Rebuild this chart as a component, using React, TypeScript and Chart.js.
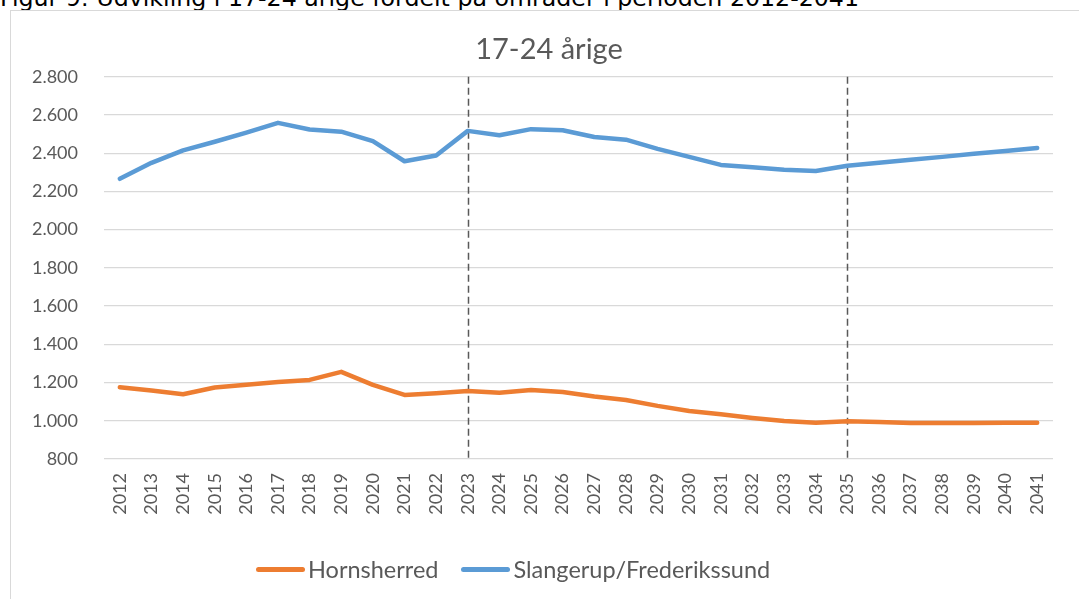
import React, { useEffect, useRef } from 'react';
import { Chart, registerables } from 'chart.js';

Chart.register(...registerables);

const years = [
  '2012', '2013', '2014', '2015', '2016', '2017', '2018', '2019', '2020', '2021',
  '2022', '2023', '2024', '2025', '2026', '2027', '2028', '2029', '2030', '2031',
  '2032', '2033', '2034', '2035', '2036', '2037', '2038', '2039', '2040', '2041',
];

const hornsherred = [
  1176, 1158, 1139, 1174, 1188, 1203, 1214, 1256, 1188, 1135,
  1144, 1156, 1147, 1161, 1151, 1127, 1109, 1078, 1051, 1034,
  1015, 999, 990, 997, 994, 989, 989, 989, 990, 990,
];

const slangerup = [
  2266, 2350, 2415, 2460, 2508, 2559, 2524, 2513, 2463, 2358,
  2388, 2517, 2494, 2526, 2520, 2485, 2471, 2423, 2381, 2339,
  2327, 2314, 2307, 2335, 2350, 2366, 2381, 2397, 2412, 2428,
];

const seriesNames = ['Hornsherred', 'Slangerup/Frederikssund'];
const seriesColors = ['#ED7D31', '#5B9BD5'];
const yTicks = [800, 1000, 1200, 1400, 1600, 1800, 2000, 2200, 2400, 2600, 2800];
const markerYears = ['2023', '2035'];
const chartTitle = '17-24 årige';
const caption = 'Figur 9: Udvikling i 17-24 årige fordelt på områder i perioden 2012-2041';

const fmt = (v: number) => String(v).replace(/\B(?=(\d{3})+(?!\d))/g, '.');

const markerPlugin = {
  id: 'markerLines',
  beforeDatasetsDraw(chart: any) {
    const { ctx, chartArea, scales } = chart;
    const x = scales.x;
    ctx.save();
    ctx.strokeStyle = '#595959';
    ctx.lineWidth = 1.5;
    ctx.setLineDash([7, 4]);
    markerYears.forEach((yr) => {
      const px = Math.round(x.getPixelForValue(years.indexOf(yr))) + 0.5;
      ctx.beginPath();
      ctx.moveTo(px, chartArea.top);
      ctx.lineTo(px, chartArea.bottom);
      ctx.stroke();
    });
    ctx.restore();
  },
};

export default function App() {
  const canvasRef = useRef<HTMLCanvasElement | null>(null);

  useEffect(() => {
    const canvas = canvasRef.current;
    if (!canvas) return;
    Chart.defaults.font.family = 'Lato';
    const chart = new Chart(canvas, {
      type: 'line',
      data: {
        labels: years,
        datasets: [
          {
            label: seriesNames[0],
            data: hornsherred,
            borderColor: seriesColors[0],
            backgroundColor: seriesColors[0],
            borderWidth: 4.5,
            pointRadius: 0,
            tension: 0,
            borderCapStyle: 'round',
            borderJoinStyle: 'round',
          },
          {
            label: seriesNames[1],
            data: slangerup,
            borderColor: seriesColors[1],
            backgroundColor: seriesColors[1],
            borderWidth: 4.5,
            pointRadius: 0,
            tension: 0,
            borderCapStyle: 'round',
            borderJoinStyle: 'round',
          },
        ],
      },
      options: {
        animation: false,
        responsive: false,
        devicePixelRatio: 1,
        layout: { padding: { top: 22, left: 19, right: 0, bottom: 67 } },
        plugins: {
          title: {
            display: true,
            text: chartTitle,
            color: '#595959',
            font: { family: 'Lato', size: 29, weight: 'normal' },
            padding: { top: 10, bottom: 10 },
          },
          legend: { display: false },
          tooltip: { enabled: false },
        },
        scales: {
          x: {
            offset: true,
            grid: { display: false, drawTicks: false, offset: true },
            border: { display: false },
            ticks: {
              color: '#595959',
              font: { family: 'Lato', size: 18 },
              maxRotation: 90,
              minRotation: 90,
              padding: 14,
              autoSkip: false,
            },
            afterFit: (s: any) => {
              s.height = 73;
            },
          },
          y: {
            min: 800,
            max: 2800,
            afterBuildTicks: (s: any) => {
              s.ticks = yTicks.map((v) => ({ value: v }));
            },
            grid: { color: '#d9d9d9', lineWidth: 1.3, drawTicks: false },
            border: { display: false },
            ticks: {
              color: '#595959',
              font: { family: 'Lato', size: 18 },
              padding: 26,
              callback: (v: any) => fmt(Number(v)),
            },
            afterFit: (s: any) => {
              s.width = 85;
            },
          },
          y2: {
            position: 'right',
            display: true,
            grid: { display: false, drawTicks: false },
            border: { display: false },
            ticks: { display: false },
            afterFit: (s: any) => {
              s.width = 26;
            },
          },
        },
      },
      plugins: [markerPlugin],
    } as any);
    return () => chart.destroy();
  }, []);

  return (
    <div
      style={{
        position: 'fixed',
        left: 0,
        top: 0,
        width: 1079,
        height: 599,
        overflow: 'hidden',
        background: '#ffffff',
      }}
    >
      <div
        style={{
          position: 'absolute',
          left: 0,
          top: -16,
          fontFamily: '"DejaVu Sans", Verdana, sans-serif',
          fontSize: '23.7px',
          lineHeight: '28px',
          color: '#000000',
          whiteSpace: 'nowrap',
        }}
      >
        {caption}
      </div>
      <div
        style={{
          position: 'absolute',
          left: 10,
          top: 10,
          width: 1200,
          height: 700,
          border: '1px solid #d9d9d9',
          boxSizing: 'border-box',
        }}
      />
      <canvas
        ref={canvasRef}
        width={1079}
        height={599}
        style={{ position: 'absolute', left: 0, top: 0, width: 1079, height: 599 }}
      />
      <div
        style={{
          position: 'absolute',
          left: 256,
          top: 555,
          height: 28,
          display: 'flex',
          alignItems: 'center',
          fontFamily: 'Lato, sans-serif',
          fontSize: '23.5px',
          color: '#595959',
          whiteSpace: 'nowrap',
        }}
      >
        {seriesNames.map((name, i) => (
          <div
            key={name}
            style={{ display: 'flex', alignItems: 'center', marginRight: i === 0 ? 23 : 0 }}
          >
            <span
              style={{
                display: 'inline-block',
                width: 49,
                height: 5,
                borderRadius: 2.5,
                background: seriesColors[i],
                marginRight: 3,
              }}
            />
            <span>{name}</span>
          </div>
        ))}
      </div>
    </div>
  );
}
